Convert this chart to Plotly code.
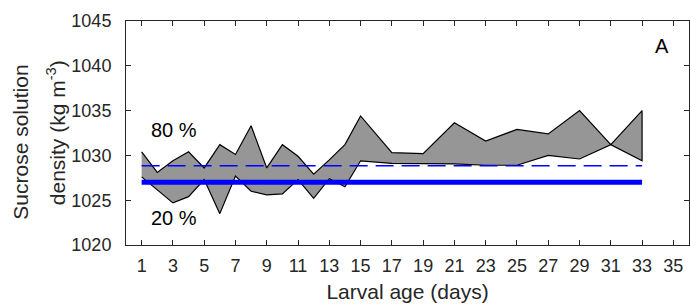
import plotly.graph_objects as go

days = [1, 2, 3, 4, 5, 6, 7, 8, 9, 10, 11, 12, 13, 14, 15, 17, 19, 21, 23, 25, 27, 29, 31, 33]
upper_80 = [1030.4, 1028.1, 1029.4, 1030.4, 1028.6, 1031.2, 1030.1, 1033.3, 1028.6, 1031.2,
            1029.9, 1027.9, 1029.5, 1031.2, 1034.4, 1030.3, 1030.2, 1033.65, 1031.6, 1032.9,
            1032.4, 1035.0, 1031.2, 1035.0]
lower_20 = [1027.6, 1026.1, 1024.7, 1025.4, 1027.3, 1023.5, 1027.7, 1026.0, 1025.6, 1025.7,
            1027.3, 1025.2, 1027.4, 1026.5, 1029.4, 1029.1, 1029.05, 1029.05, 1028.9, 1028.9,
            1030.0, 1029.6, 1031.2, 1029.4]
line_x = [1, 33]
solid_level = [1027.0, 1027.0]
dashed_level = [1028.85, 1028.85]
x_ticks = list(range(1, 36, 2))
y_ticks = [1020, 1025, 1030, 1035, 1040, 1045]

FONT = "Liberation Sans, Arial, sans-serif"
TXT = "#262626"

fig = go.Figure()
fig.add_trace(go.Scatter(
    x=days + days[::-1], y=upper_80 + lower_20[::-1],
    fill="toself", fillcolor="#969696", mode="lines",
    line=dict(color="black", width=1.2), hoverinfo="skip", showlegend=False))
fig.add_trace(go.Scatter(
    x=line_x, y=dashed_level, mode="lines",
    line=dict(color="#0000ff", width=1.5, dash="18px,8px"), showlegend=False))
fig.add_trace(go.Scatter(
    x=line_x, y=solid_level, mode="lines",
    line=dict(color="#0000ff", width=5), showlegend=False))

axis_common = dict(showline=True, mirror="ticks", linecolor=TXT, linewidth=1,
                   ticks="inside", ticklen=5, tickcolor=TXT, showgrid=False,
                   zeroline=False, automargin=False,
                   tickfont=dict(family=FONT, size=18, color=TXT))
fig.update_xaxes(range=[0, 36], tickvals=x_ticks, ticklabelstandoff=4, **axis_common,
                 title=dict(text="Larval age (days)", font=dict(family=FONT, size=21, color=TXT),
                            standoff=9))
fig.update_yaxes(range=[1020, 1045], tickvals=y_ticks, ticklabelstandoff=10, **axis_common)

fig.add_annotation(x=3.1, y=1032.8, text="80 %", showarrow=False,
                   font=dict(family=FONT, size=20, color="black"))
fig.add_annotation(x=3.1, y=1023.0, text="20 %", showarrow=False,
                   font=dict(family=FONT, size=20, color="black"))
fig.add_annotation(x=34.3, y=1042.2, text="A", showarrow=False,
                   font=dict(family=FONT, size=20, color="black"))
fig.add_annotation(xref="paper", yref="paper", x=-0.187, y=0.46, textangle=-90,
                   xanchor="center", yanchor="middle",
                   text="Sucrose solution", showarrow=False,
                   font=dict(family=FONT, size=21, color=TXT))
fig.add_annotation(xref="paper", yref="paper", x=-0.124, y=0.5, textangle=-90,
                   xanchor="center", yanchor="middle",
                   text="density (kg m<sup>-3</sup>)", showarrow=False,
                   font=dict(family=FONT, size=21, color=TXT))

fig.update_layout(width=690, height=307, margin=dict(l=126, r=1, t=21, b=62),
                  plot_bgcolor="white", paper_bgcolor="white")
fig.write_html("out.html", config={"displayModeBar": False},
               post_script="document.body.style.margin='0';document.body.style.padding='0';")
